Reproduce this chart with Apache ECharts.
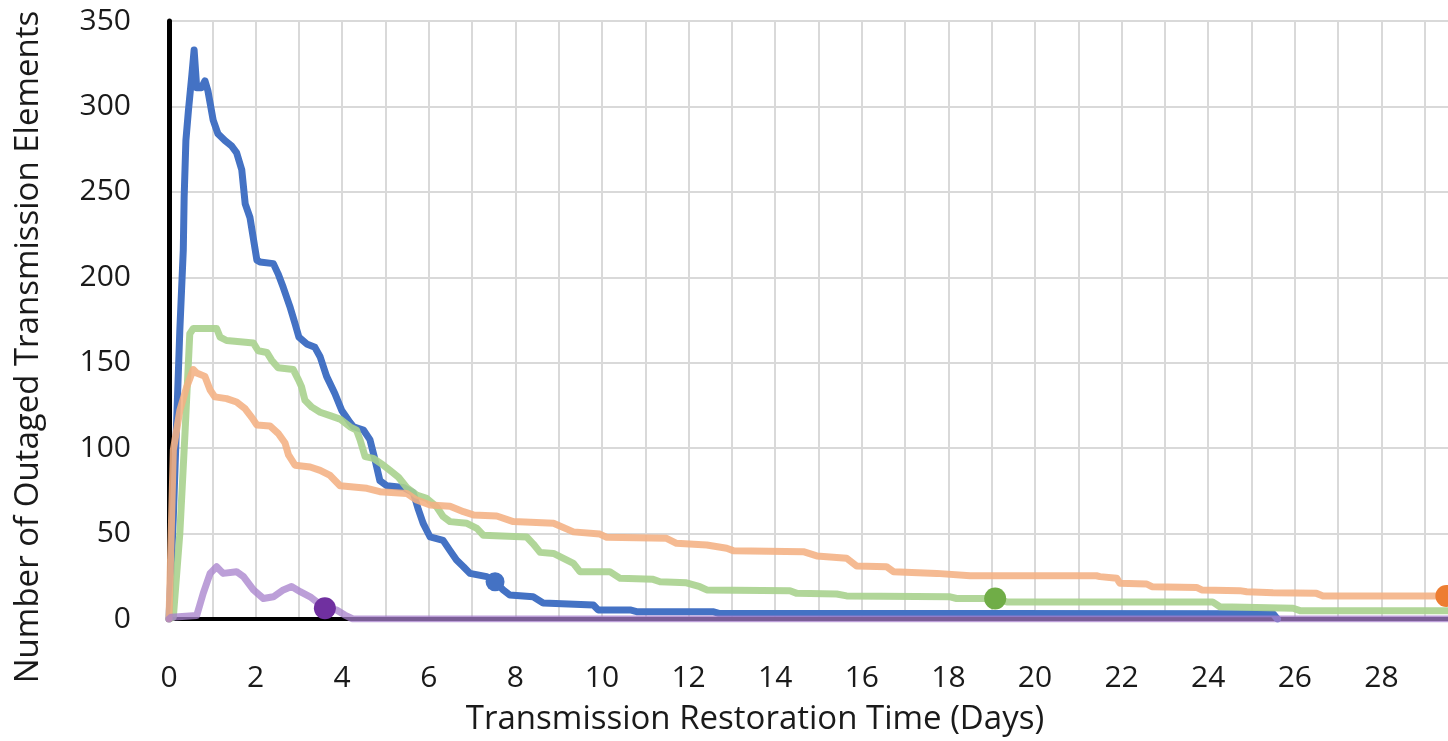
<!DOCTYPE html>
<html>
<head>
<meta charset="utf-8">
<script src="https://cdn.jsdelivr.net/npm/echarts@6/dist/echarts.min.js"></script>
<style>
html,body{margin:0;padding:0;background:#fff;}
#chart{width:1448px;height:741px;}
</style>
</head>
<body>
<div id="chart"></div>
<script>
// Days vs number of outaged transmission elements
const blueData = [[0,0],[0.1,60],[0.25,169],[0.33,216],[0.35,247],[0.39,280],[0.45,298],[0.53,319],[0.58,333],[0.64,311],[0.75,311],[0.83,315],[0.9,309],[1.02,292],[1.13,284],[1.29,280],[1.44,277],[1.56,273],[1.68,263],[1.76,243],[1.87,235],[1.94,224],[2.03,210],[2.1,209],[2.41,208],[2.52,202],[2.64,194],[2.79,183],[2.91,173],[3.0,165],[3.18,161],[3.37,159],[3.49,153.5],[3.64,142],[3.83,132],[3.99,122],[4.18,115],[4.26,112.5],[4.49,110.6],[4.64,105],[4.76,93],[4.87,81],[5.03,78],[5.41,77],[5.64,74],[5.76,64],[5.87,56],[6.03,48],[6.33,46],[6.49,40],[6.64,34.5],[6.8,30.6],[6.95,26.7],[7.34,24.8],[7.53,21.8],[7.72,17],[7.87,14],[8.41,13],[8.64,9.4],[9.8,8.2],[9.91,5.3],[10.65,5.3],[10.8,4.3],[12.56,4.3],[12.7,3.3],[25.5,3],[25.6,0]];
const greenData = [[0,0],[0.1,1],[0.25,50],[0.37,109],[0.48,167],[0.56,170],[1.1,170],[1.18,165],[1.33,163],[1.95,161.5],[2.06,157],[2.26,156],[2.37,151.5],[2.52,147],[2.87,146],[2.99,140],[3.06,136],[3.14,128],[3.3,124],[3.49,121],[3.72,119],[3.95,117],[4.18,112.5],[4.33,110.6],[4.41,105],[4.53,95],[4.72,94],[4.95,90],[5.1,87],[5.3,83],[5.49,77],[5.72,72.5],[5.95,70.6],[6.18,65.7],[6.33,60],[6.49,57],[6.88,56],[7.11,53],[7.26,49],[8.26,48],[8.41,44],[8.57,39],[8.88,38.4],[9.11,35.5],[9.34,32.6],[9.49,27.7],[10.18,27.7],[10.42,23.8],[11.18,23.2],[11.34,21.8],[11.95,21.2],[12.26,18.9],[12.42,17],[14.34,16.6],[14.5,15],[15.42,14.6],[15.65,13.5],[18.04,13],[18.19,12],[19.08,12],[19.35,10],[24.1,10],[24.27,7.2],[25.96,6.3],[26.12,4.9],[30,4.9]];
const orangeData = [[0,0],[0.1,99],[0.25,122],[0.41,136],[0.56,146],[0.64,144],[0.83,142],[0.95,134],[1.06,130],[1.33,129],[1.56,127],[1.76,123],[1.91,118],[2.03,113.5],[2.33,113],[2.52,108.7],[2.68,103],[2.76,96],[2.91,90],[3.26,89],[3.49,87],[3.72,84],[3.95,78],[4.57,76.5],[4.87,74.5],[5.49,73.5],[5.72,69.6],[6.03,66.7],[6.49,66],[6.8,62.8],[7.03,60.9],[7.57,60.3],[7.95,57],[8.88,56],[9.34,51],[9.95,49.7],[10.11,47.8],[11.49,47.2],[11.72,44.3],[12.42,43.3],[12.88,41.4],[13.03,40],[14.65,39.4],[14.96,36.9],[15.65,35.5],[15.88,31],[16.57,30.6],[16.73,27.7],[17.73,26.7],[18.5,25.3],[21.42,25.3],[21.5,24.8],[21.89,23.8],[21.96,20.9],[22.58,20.5],[22.7,18.9],[23.73,18.5],[23.85,17],[24.73,16.6],[24.89,16],[25.5,15.4],[26.5,15],[26.65,13.5],[30,13.5]];
const purpleData = [[0,0],[0.05,1],[0.64,2],[0.79,15],[0.95,26.7],[1.1,30.6],[1.25,26.7],[1.56,27.7],[1.72,24.8],[1.95,17],[2.18,12],[2.41,13],[2.64,17],[2.83,19],[3.03,16],[3.26,13],[3.6,6.3],[3.87,5.3],[4.06,2.3],[4.25,0],[30,0]];
const blueMarker = [[7.53,21.8]];
const greenMarker = [[19.08,12]];
const orangeMarker = [[29.5,13.5]];
const purpleMarker = [[3.6,6.3]];
const xTicks = {min:0, max:30, interval:2};
const yTicks = {min:0, max:350, interval:50};
const xTitle = 'Transmission Restoration Time (Days)';
const yTitle = 'Number of Outaged Transmission Elements';

const chart = echarts.init(document.getElementById('chart'), null, {renderer:'canvas'});
const FONT = '"Open Sans"';
function lineSeries(data, color, opacity){
  return {type:'line', data:data, symbol:'none', silent:true, animation:false,
    lineStyle:{color:color, width:7, opacity:opacity, join:'round', cap:'round'}};
}
function dot(data, color, size){
  return {type:'scatter', data:data, symbol:'circle', symbolSize:size, animation:false, silent:true,
    itemStyle:{color:color, opacity:1}, z:5};
}
chart.setOption({
  backgroundColor:'#ffffff',
  animation:false,
  grid:{left:169, top:21, bottom:122, width:1299, containLabel:false, outerBoundsMode:'none'},
  graphic:[{type:'text', x:755, y:720, silent:true,
    style:{text:xTitle, font:'33px "Open Sans"', fill:'#1a1a1a', align:'center', verticalAlign:'middle'}}],
  xAxis:{type:'value', min:xTicks.min, max:xTicks.max, interval:xTicks.interval,
    axisLine:{show:true, onZero:false, lineStyle:{color:'#000', width:4}},
    axisTick:{show:false},
    axisLabel:{fontFamily:FONT, fontSize:30, color:'#1a1a1a', margin:44},
    splitLine:{show:true, lineStyle:{color:'#d9d9d9', width:2}},
    minorTick:{show:false, splitNumber:2},
    minorSplitLine:{show:true, lineStyle:{color:'#d9d9d9', width:2}}
  },
  yAxis:{type:'value', min:yTicks.min, max:yTicks.max, interval:yTicks.interval,
    name:yTitle, nameLocation:'middle', nameGap:124,
    nameTextStyle:{fontFamily:FONT, fontSize:33, color:'#1a1a1a', padding:[0,54,0,0]},
    axisLine:{show:true, lineStyle:{color:'#000', width:5}},
    axisTick:{show:false},
    axisLabel:{fontFamily:FONT, fontSize:30, color:'#1a1a1a', margin:38},
    splitLine:{show:true, lineStyle:{color:'#d9d9d9', width:2}}
  },
  series:[
    lineSeries(blueData, '#4472C4', 1),
    lineSeries(greenData, '#A9D18E', 0.9),
    lineSeries(orangeData, '#F4B183', 0.88),
    lineSeries(purpleData, '#A57FCB', 0.75),
    dot(blueMarker, '#4472C4', 19),
    dot(greenMarker, '#70AD47', 22),
    dot(orangeMarker, '#ED7D31', 22),
    dot(purpleMarker, '#7030A0', 22)
  ]
});
</script>
</body>
</html>
